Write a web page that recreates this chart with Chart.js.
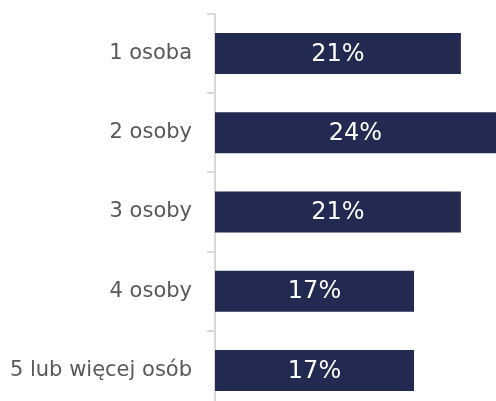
<!DOCTYPE html>
<html>
<head>
<meta charset="utf-8">
<script src="https://cdn.jsdelivr.net/npm/chart.js@4"></script>
<style>
  html, body { margin: 0; padding: 0; background: #fff; overflow: hidden; }
  #wrap { width: 496px; height: 410px; position: relative; }
</style>
</head>
<body>
<div id="wrap"><canvas id="chart"></canvas></div>
<script>
const categories = ["1 osoba", "2 osoby", "3 osoby", "4 osoby", "5 lub więcej osób"];
const shares = [21, 24, 21, 17, 17];

const barColor = "#232a52";
const axisGrey = "#d9d9d9";
const fontFamily = "'DejaVu Sans', sans-serif";

// draws "21%" etc. in the middle of each bar
const barLabels = {
  id: "barLabels",
  afterDatasetsDraw(chart) {
    const ctx = chart.ctx;
    const meta = chart.getDatasetMeta(0);
    ctx.save();
    ctx.font = "24px " + fontFamily;
    ctx.fillStyle = "#ffffff";
    ctx.textAlign = "center";
    ctx.textBaseline = "middle";
    meta.data.forEach((bar, i) => {
      const x = (bar.x + bar.base) / 2;
      ctx.fillText(shares[i] + "%", x, bar.y + 1);
    });
    ctx.restore();
  }
};

new Chart(document.getElementById("chart"), {
  type: "bar",
  data: {
    labels: categories,
    datasets: [{
      data: shares,
      backgroundColor: barColor,
      borderWidth: 0,
      barPercentage: 0.7,
      categoryPercentage: 0.74
    }]
  },
  options: {
    indexAxis: "y",
    responsive: true,
    maintainAspectRatio: false,
    animation: false,
    layout: { padding: { top: 14, right: 0, bottom: 0, left: 0 } },
    plugins: { legend: { display: false }, tooltip: { enabled: false } },
    scales: {
      x: { display: false, min: 0, max: 24 },
      y: {
        afterFit(scale) {
          scale.width = 215;
          scale.paddingTop = 0;
          scale.paddingBottom = 0;
        },
        grid: {
          offset: true,
          drawOnChartArea: false,
          drawTicks: true,
          tickLength: 8,
          color: axisGrey,
          lineWidth: 2
        },
        border: { display: true, color: axisGrey, width: 2 },
        ticks: {
          color: "#595959",
          padding: 15,
          font: { family: fontFamily, size: 21 }
        }
      }
    }
  },
  plugins: [barLabels]
});
</script>
</body>
</html>
